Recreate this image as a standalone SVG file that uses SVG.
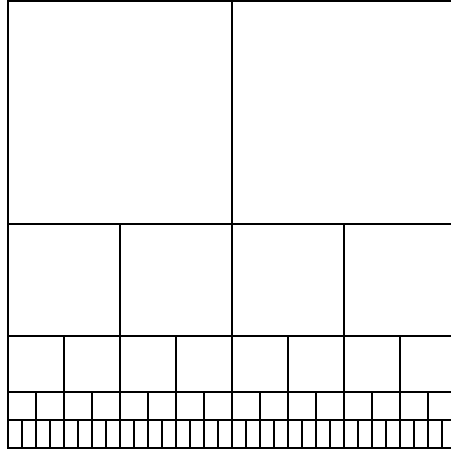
<svg xmlns="http://www.w3.org/2000/svg" width="451" height="453" viewBox="0 0 451 453">
<style>rect{fill:none;stroke:#000;stroke-width:2}</style>
<rect x="0" y="0" width="451" height="453" style="fill:#fff;stroke:none"/>
<g id="row1">
<rect x="8" y="1" width="224" height="223"/><rect x="232" y="1" width="224" height="223"/>
</g>
<g id="row2">
<rect x="8" y="224" width="112" height="112"/><rect x="120" y="224" width="112" height="112"/><rect x="232" y="224" width="112" height="112"/><rect x="344" y="224" width="112" height="112"/>
</g>
<g id="row3">
<rect x="8" y="336" width="56" height="56"/><rect x="64" y="336" width="56" height="56"/><rect x="120" y="336" width="56" height="56"/><rect x="176" y="336" width="56" height="56"/><rect x="232" y="336" width="56" height="56"/><rect x="288" y="336" width="56" height="56"/><rect x="344" y="336" width="56" height="56"/><rect x="400" y="336" width="56" height="56"/>
</g>
<g id="row4">
<rect x="8" y="392" width="28" height="28"/><rect x="36" y="392" width="28" height="28"/><rect x="64" y="392" width="28" height="28"/><rect x="92" y="392" width="28" height="28"/><rect x="120" y="392" width="28" height="28"/><rect x="148" y="392" width="28" height="28"/><rect x="176" y="392" width="28" height="28"/><rect x="204" y="392" width="28" height="28"/><rect x="232" y="392" width="28" height="28"/><rect x="260" y="392" width="28" height="28"/><rect x="288" y="392" width="28" height="28"/><rect x="316" y="392" width="28" height="28"/><rect x="344" y="392" width="28" height="28"/><rect x="372" y="392" width="28" height="28"/><rect x="400" y="392" width="28" height="28"/><rect x="428" y="392" width="28" height="28"/>
</g>
<g id="row5">
<rect x="8" y="420" width="14" height="28"/><rect x="22" y="420" width="14" height="28"/><rect x="36" y="420" width="14" height="28"/><rect x="50" y="420" width="14" height="28"/><rect x="64" y="420" width="14" height="28"/><rect x="78" y="420" width="14" height="28"/><rect x="92" y="420" width="14" height="28"/><rect x="106" y="420" width="14" height="28"/><rect x="120" y="420" width="14" height="28"/><rect x="134" y="420" width="14" height="28"/><rect x="148" y="420" width="14" height="28"/><rect x="162" y="420" width="14" height="28"/><rect x="176" y="420" width="14" height="28"/><rect x="190" y="420" width="14" height="28"/><rect x="204" y="420" width="14" height="28"/><rect x="218" y="420" width="14" height="28"/><rect x="232" y="420" width="14" height="28"/><rect x="246" y="420" width="14" height="28"/><rect x="260" y="420" width="14" height="28"/><rect x="274" y="420" width="14" height="28"/><rect x="288" y="420" width="14" height="28"/><rect x="302" y="420" width="14" height="28"/><rect x="316" y="420" width="14" height="28"/><rect x="330" y="420" width="14" height="28"/><rect x="344" y="420" width="14" height="28"/><rect x="358" y="420" width="14" height="28"/><rect x="372" y="420" width="14" height="28"/><rect x="386" y="420" width="14" height="28"/><rect x="400" y="420" width="14" height="28"/><rect x="414" y="420" width="14" height="28"/><rect x="428" y="420" width="14" height="28"/><rect x="442" y="420" width="14" height="28"/>
</g>
</svg>
